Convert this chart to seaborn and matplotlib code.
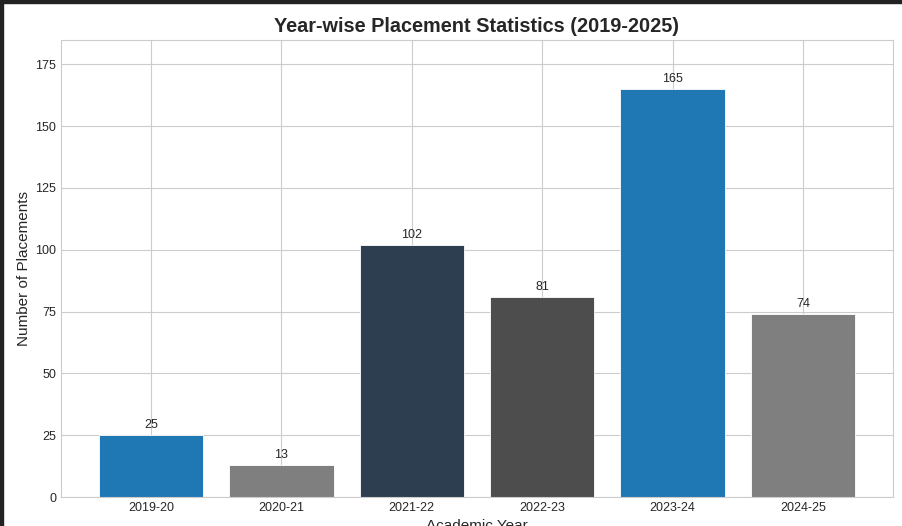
import matplotlib
matplotlib.use("Agg")
import matplotlib.pyplot as plt
import seaborn as sns
import pandas as pd
from matplotlib.patches import Rectangle

years = ["2019-20", "2020-21", "2021-22", "2022-23", "2023-24", "2024-25"]
placements = [25, 13, 102, 81, 165, 74]
bar_colors = ["#1f77b4", "#7f7f7f", "#2c3e50", "#4d4d4d", "#1f77b4", "#7f7f7f"]

sns.set_style("whitegrid")
plt.rcParams["font.family"] = ["Liberation Sans", "DejaVu Sans"]

df = pd.DataFrame({"Academic Year": years, "Placements": placements})

fig = plt.figure(figsize=(9.03, 5.26), dpi=100)
ax = fig.add_axes([61/903, 1 - 497/526, (893 - 61)/903, (497 - 40)/526])

sns.barplot(data=df, x="Academic Year", y="Placements", hue="Academic Year",
            palette=bar_colors, legend=False, width=0.8, ax=ax,
            edgecolor="white", linewidth=0.6, saturation=1)

ax.set_xlim(-0.69, 5.69)
ax.set_ylim(0, max(placements) * 1.12)
ax.xaxis.grid(True)
ax.yaxis.grid(True)
ax.set_axisbelow(True)

for i, v in enumerate(placements):
    ax.text(i, v + 1.5, str(v), ha="center", va="bottom", fontsize=9, color=".15")

ax.set_title("Year-wise Placement Statistics (2019-2025)", fontsize=14.3,
             fontweight="bold", pad=6)
ax.set_xlabel("Academic Year", fontsize=11, labelpad=4)
ax.set_ylabel("Number of Placements", fontsize=11, labelpad=3)
ax.tick_params(axis="both", labelsize=9, length=0, pad=3.5)

# screenshot frame strips
fig.patches.append(Rectangle((0, 1 - 3/526), 1, 3/526, transform=fig.transFigure,
                             color="#222222", zorder=10))
fig.patches.append(Rectangle((0, 0), 3/903, 1, transform=fig.transFigure,
                             color="#222222", zorder=10))

fig.savefig("out.png", dpi=100)
